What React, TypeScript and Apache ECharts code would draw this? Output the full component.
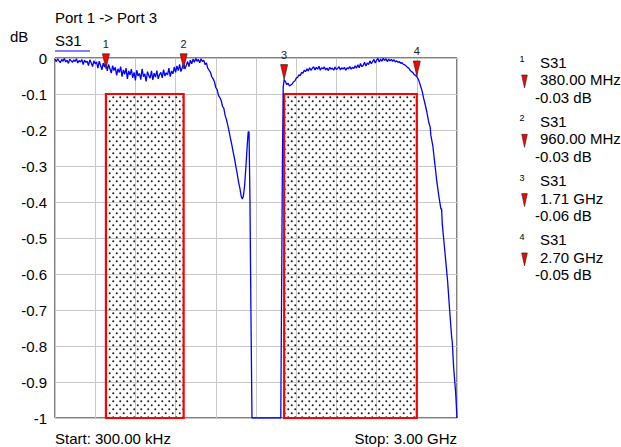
import React, { useEffect, useRef } from 'react';
import * as echarts from 'echarts';

// Sweep segment 1: 0.00 .. 1.09 GHz, one reading every 10 MHz (dB)
const seg1StartGHz = 0.0;
const seg1StepGHz = 0.01;
const seg1Db = [
  -0.003, -0.010, -0.002, -0.008, -0.013, -0.004, -0.009, -0.001, -0.011, -0.006,
  -0.015, -0.003, -0.008, -0.012, -0.005, -0.010, -0.002, -0.014, -0.007, -0.011,
  -0.004, -0.018, -0.006, -0.012, -0.009, -0.021, -0.005, -0.013, -0.024, -0.008,
  -0.016, -0.011, -0.028, -0.009, -0.020, -0.033, -0.014, -0.025, -0.012, -0.036,
  -0.018, -0.030, -0.042, -0.021, -0.035, -0.026, -0.048, -0.030, -0.040, -0.024,
  -0.052, -0.033, -0.045, -0.028, -0.058, -0.036, -0.047, -0.031, -0.055, -0.040,
  -0.062, -0.034, -0.050, -0.043, -0.060, -0.030, -0.052, -0.044, -0.065, -0.038,
  -0.049, -0.056, -0.036, -0.061, -0.042, -0.053, -0.035, -0.058, -0.046, -0.040,
  -0.055, -0.032, -0.050, -0.041, -0.047, -0.028, -0.052, -0.036, -0.044, -0.025,
  -0.040, -0.022, -0.035, -0.018, -0.038, -0.026, -0.014, -0.031, -0.020, -0.010,
  -0.024, -0.006, -0.016, -0.003, -0.012, -0.001, -0.009, -0.004, -0.013, -0.002,
];

// Sweep segment 2: roll-off, notch and the stop band (GHz, dB)
const seg2: [number, number][] = [
  [1.10, -0.010], [1.11, -0.006], [1.12, -0.018], [1.13, -0.014], [1.14, -0.028],
  [1.15, -0.034], [1.16, -0.040], [1.17, -0.052], [1.18, -0.058], [1.19, -0.066],
  [1.20, -0.082], [1.21, -0.088], [1.22, -0.104], [1.23, -0.110], [1.24, -0.118],
  [1.25, -0.134], [1.26, -0.140], [1.27, -0.160], [1.28, -0.172], [1.29, -0.188],
  [1.30, -0.205], [1.31, -0.225], [1.32, -0.242], [1.33, -0.262], [1.34, -0.280],
  [1.35, -0.302], [1.36, -0.322], [1.37, -0.345], [1.38, -0.362], [1.39, -0.385],
  [1.398, -0.392], [1.405, -0.385], [1.415, -0.355], [1.425, -0.300], [1.435, -0.240],
  [1.442, -0.205], [1.448, -0.205], [1.455, -0.400], [1.462, -0.700], [1.470, -1.000],
  [1.685, -1.000], [1.697, -0.300], [1.703, -0.080], [1.710, -0.060],
];

// Sweep segment 3: 1.72 .. 2.75 GHz, one reading every 10 MHz (dB)
const seg3StartGHz = 1.72;
const seg3StepGHz = 0.01;
const seg3Db = [
  -0.066, -0.074, -0.070, -0.078, -0.075, -0.072, -0.066, -0.064, -0.056, -0.054,
  -0.047, -0.049, -0.040, -0.042, -0.034, -0.038, -0.030, -0.036, -0.027, -0.034,
  -0.029, -0.024, -0.033, -0.026, -0.031, -0.023, -0.034, -0.027, -0.030, -0.025,
  -0.033, -0.028, -0.035, -0.026, -0.031, -0.028, -0.034, -0.025, -0.032, -0.029,
  -0.024, -0.033, -0.027, -0.031, -0.026, -0.034, -0.027, -0.030, -0.024, -0.031,
  -0.026, -0.029, -0.022, -0.028, -0.019, -0.027, -0.015, -0.024, -0.020, -0.012,
  -0.022, -0.014, -0.018, -0.008, -0.016, -0.010, -0.004, -0.014, -0.006, -0.001,
  -0.011, -0.003, -0.009, -0.001, -0.007, -0.002, -0.010, -0.003, -0.008, -0.004,
  -0.009, -0.005, -0.011, -0.008, -0.012, -0.010, -0.015, -0.013, -0.018, -0.019,
  -0.022, -0.026, -0.028, -0.034, -0.038, -0.040, -0.046, -0.048, -0.052, -0.058,
  -0.068, -0.080, -0.092, -0.110,
];

// Sweep segment 4: upper roll-off (GHz, dB)
const seg4: [number, number][] = [
  [2.760, -0.125], [2.775, -0.150], [2.790, -0.180], [2.800, -0.192], [2.805, -0.215],
  [2.820, -0.245], [2.835, -0.295], [2.850, -0.345], [2.865, -0.385], [2.880, -0.420],
  [2.885, -0.418], [2.890, -0.460], [2.900, -0.500], [2.915, -0.560], [2.930, -0.620],
  [2.945, -0.700], [2.960, -0.775], [2.965, -0.790], [2.975, -0.860], [2.990, -0.930],
  [3.000, -1.000],
];

const markerIds = ['1', '2', '3', '4'];
const markerFreq = [0.38, 0.96, 1.71, 2.70];
const markerVal = [-0.03, -0.03, -0.06, -0.05];
const markerFreqText = ['380.00 MHz', '960.00 MHz', '1.71 GHz', '2.70 GHz'];
const markerValText = ['-0.03 dB', '-0.03 dB', '-0.06 dB', '-0.05 dB'];

const bandStart = [0.38, 1.71];
const bandEnd = [0.96, 2.70];
const bandTop = -0.1;
const bandBottom = -1;

const xMin = 0;
const xMax = 3;
const xStep = 0.3;
const yMin = -1;
const yMax = 0;
const yStep = 0.1;

const titleText = 'Port 1 -> Port 3';
const traceName = 'S31';
const unitText = 'dB';
const startText = 'Start: 300.00 kHz';
const stopText = 'Stop: 3.00 GHz';

const FONT = '"Liberation Sans", Arial, Helvetica, sans-serif';

function buildTrace(): [number, number][] {
  const out: [number, number][] = [];
  seg1Db.forEach((v, i) => out.push([+(seg1StartGHz + i * seg1StepGHz).toFixed(4), v]));
  seg2.forEach((p) => out.push(p));
  seg3Db.forEach((v, i) => out.push([+(seg3StartGHz + i * seg3StepGHz).toFixed(4), v]));
  seg4.forEach((p) => out.push(p));
  return out;
}

function makePattern() {
  const c = document.createElement('canvas');
  c.width = 14;
  c.height = 16;
  const ctx = c.getContext('2d');
  if (ctx) {
    ctx.fillStyle = '#1a1a1a';
    ctx.beginPath();
    ctx.arc(2.5, 2.5, 2.0, 0, Math.PI * 2);
    ctx.fill();
    ctx.beginPath();
    ctx.arc(9.5, 10.5, 2.0, 0, Math.PI * 2);
    ctx.fill();
  }
  return { image: c.toDataURL(), repeat: 'repeat', imageWidth: 7, imageHeight: 8 };
}

export default function App() {
  const ref = useRef<HTMLDivElement>(null);

  useEffect(() => {
    if (!ref.current) return;
    const chart = echarts.init(ref.current, undefined, { renderer: 'svg' });
    const pattern = makePattern();
    const trace = buildTrace();

    const legendGraphics: any[] = [];
    markerIds.forEach((id, i) => {
      const y0 = 62 + 59.3 * i;
      legendGraphics.push(
        { type: 'text', x: 522, y: y0 - 3, style: { text: id, fontSize: 9, fontFamily: FONT, fill: '#000', align: 'center', verticalAlign: 'middle' } },
        { type: 'text', x: 540, y: y0, style: { text: traceName, fontSize: 15, fontFamily: FONT, fill: '#000', align: 'left', verticalAlign: 'middle' } },
        { type: 'polygon', shape: { points: [[521.7, y0 + 13], [527.3, y0 + 13], [524.5, y0 + 26]] }, style: { fill: '#ff0000', stroke: '#222', lineWidth: 0.6 } },
        { type: 'text', x: 540, y: y0 + 17.5, style: { text: markerFreqText[i], fontSize: 15, fontFamily: FONT, fill: '#000', align: 'left', verticalAlign: 'middle' } },
        { type: 'text', x: 535, y: y0 + 35, style: { text: markerValText[i], fontSize: 15, fontFamily: FONT, fill: '#000', align: 'left', verticalAlign: 'middle' } },
      );
    });

    const bandData = bandStart.map((s, i) => [s, bandEnd[i], bandTop, bandBottom]);

    chart.setOption({
      animation: false,
      backgroundColor: '#fff',
      grid: {
        left: 55, top: 58, width: 402, height: 360,
        show: true, borderColor: '#000', borderWidth: 1, backgroundColor: '#fff',
      },
      xAxis: {
        type: 'value', min: xMin, max: xMax, interval: xStep,
        axisLabel: { show: false }, axisTick: { show: false }, axisLine: { show: false },
        splitLine: { show: true, lineStyle: { color: '#c8c8c8', width: 1 } },
      },
      yAxis: {
        type: 'value', min: yMin, max: yMax, interval: yStep,
        axisLabel: { show: true, fontSize: 15, fontFamily: FONT, color: '#000', margin: 8 },
        axisTick: { show: false }, axisLine: { show: false },
        splitLine: { show: true, lineStyle: { color: '#c8c8c8', width: 1 } },
      },
      graphic: [
        { type: 'text', x: 55, y: 17, style: { text: titleText, fontSize: 15, fontFamily: FONT, fill: '#000', align: 'left', verticalAlign: 'middle' } },
        { type: 'text', x: 10, y: 36, style: { text: unitText, fontSize: 15, fontFamily: FONT, fill: '#000', align: 'left', verticalAlign: 'middle' } },
        { type: 'text', x: 55, y: 40, style: { text: traceName, fontSize: 15, fontFamily: FONT, fill: '#000', align: 'left', verticalAlign: 'middle' } },
        { type: 'line', shape: { x1: 55, y1: 51, x2: 90, y2: 51 }, style: { stroke: '#0000ff', lineWidth: 1 } },
        { type: 'text', x: 55, y: 438, style: { text: startText, fontSize: 15, fontFamily: FONT, fill: '#000', align: 'left', verticalAlign: 'middle' } },
        { type: 'text', x: 457, y: 438, style: { text: stopText, fontSize: 15, fontFamily: FONT, fill: '#000', align: 'right', verticalAlign: 'middle' } },
        ...legendGraphics,
      ],
      series: [
        {
          type: 'custom',
          z: 1,
          silent: true,
          data: bandData,
          encode: { x: [0, 1], y: [2, 3] },
          renderItem: (params: any, api: any) => {
            const p0 = api.coord([api.value(0), api.value(2)]);
            const p1 = api.coord([api.value(1), api.value(3)]);
            return {
              type: 'rect',
              shape: { x: p0[0], y: p0[1], width: p1[0] - p0[0], height: p1[1] - p0[1] },
              style: { fill: pattern, stroke: '#ff0000', lineWidth: 2.2 },
            };
          },
        },
        {
          type: 'line',
          z: 3,
          name: traceName,
          data: trace,
          showSymbol: false,
          symbol: 'none',
          silent: true,
          lineStyle: { color: '#0000ff', width: 1.3 },
        },
        {
          type: 'scatter',
          z: 5,
          silent: true,
          data: markerFreq.map((f, i) => [f, markerVal[i]]),
          symbol: 'path://M0,0L8,0L4,16Z',
          symbolSize: [7, 15],
          symbolOffset: [0, -7.5],
          itemStyle: { color: '#ff0000', borderColor: '#222', borderWidth: 0.6, opacity: 1 },
          label: {
            show: true, position: 'top', distance: 4,
            formatter: (p: any) => markerIds[p.dataIndex],
            fontSize: 11, fontFamily: FONT, color: '#222',
          },
        },
      ],
    });

    return () => chart.dispose();
  }, []);

  return <div ref={ref} style={{ position: 'fixed', left: 0, top: 0, width: 621, height: 447 }} />;
}
